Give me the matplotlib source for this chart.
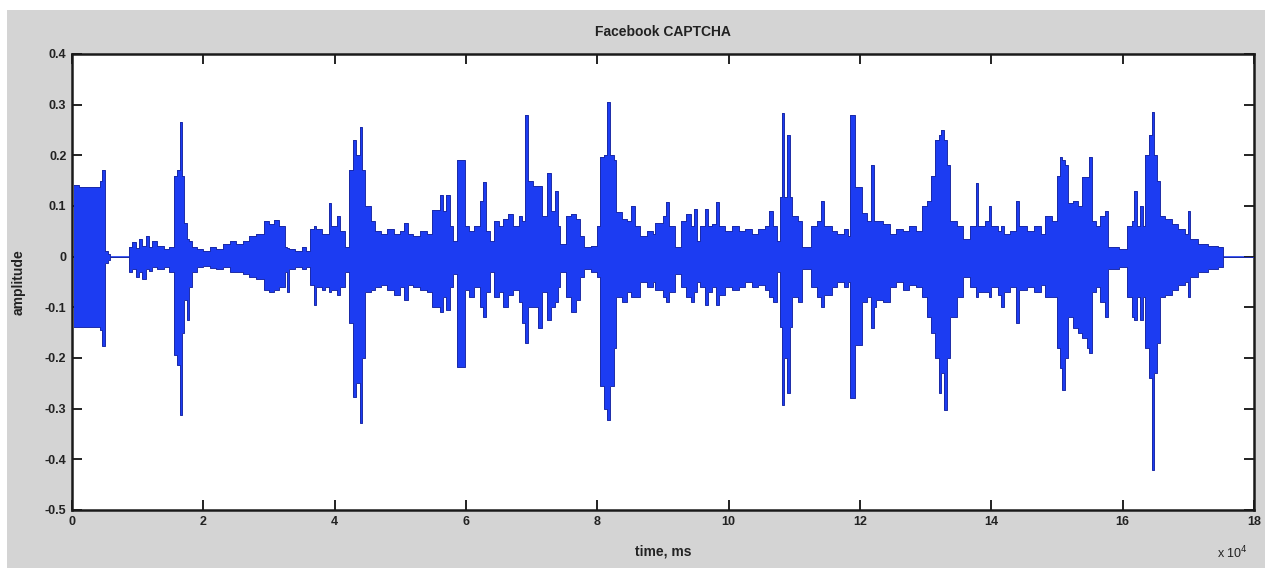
import numpy as np
import matplotlib
matplotlib.use("Agg")
import matplotlib.pyplot as plt
from matplotlib.patches import Rectangle

# envelope of the waveform (time in units of 1e4 ms)
time_1e4 = [
    0.03, 0.10, 0.42, 0.46, 0.50, 0.55, 0.58, 0.87, 0.92, 0.97, 1.02, 1.07, 1.12, 1.17,
    1.22, 1.30, 1.40, 1.48, 1.55, 1.60, 1.64, 1.67, 1.70, 1.75, 1.78, 1.82, 1.90, 2.00,
    2.10, 2.20, 2.30, 2.40, 2.50, 2.60, 2.70, 2.80, 2.92, 3.00, 3.07, 3.15, 3.24, 3.28,
    3.31, 3.40, 3.50, 3.56, 3.62, 3.68, 3.72, 3.80, 3.85, 3.91, 3.95, 4.04, 4.08, 4.16,
    4.22, 4.28, 4.33, 4.38, 4.42, 4.46, 4.55, 4.62, 4.70, 4.80, 4.90, 5.00, 5.05, 5.12,
    5.20, 5.30, 5.40, 5.48, 5.60, 5.65, 5.70, 5.75, 5.80, 5.86, 5.98, 6.05, 6.12, 6.21,
    6.26, 6.31, 6.37, 6.42, 6.50, 6.57, 6.64, 6.72, 6.80, 6.86, 6.90, 6.95, 7.02, 7.10,
    7.15, 7.23, 7.30, 7.35, 7.40, 7.43, 7.53, 7.60, 7.68, 7.74, 7.79, 7.90, 7.99, 8.04,
    8.10, 8.15, 8.20, 8.25, 8.29, 8.37, 8.45, 8.52, 8.58, 8.65, 8.75, 8.85, 8.88, 9.00,
    9.04, 9.09, 9.18, 9.28, 9.35, 9.42, 9.47, 9.52, 9.56, 9.64, 9.68, 9.75, 9.81, 9.85,
    9.95, 10.05, 10.15, 10.25, 10.35, 10.45, 10.55, 10.62, 10.68, 10.74, 10.78, 10.81,
    10.84, 10.89, 10.93, 10.96, 11.05, 11.11, 11.25, 11.35, 11.41, 11.45, 11.57, 11.65,
    11.75, 11.82, 11.85, 11.93, 12.03, 12.10, 12.17, 12.21, 12.25, 12.35, 12.46, 12.55,
    12.65, 12.75, 12.85, 12.94, 13.02, 13.08, 13.14, 13.20, 13.24, 13.28, 13.32, 13.37,
    13.47, 13.57, 13.67, 13.76, 13.80, 13.90, 13.96, 14.00, 14.10, 14.15, 14.20, 14.28,
    14.38, 14.42, 14.55, 14.65, 14.75, 14.82, 14.92, 15.00, 15.04, 15.08, 15.12, 15.17,
    15.25, 15.32, 15.38, 15.46, 15.49, 15.53, 15.60, 15.66, 15.73, 15.78, 15.95, 16.06,
    16.14, 16.17, 16.22, 16.27, 16.31, 16.34, 16.40, 16.44, 16.48, 16.53, 16.57, 16.65,
    16.75, 16.85, 16.95, 16.99, 17.03, 17.15, 17.30, 17.45, 17.53,
]
upper = [
    0.142, 0.138, 0.150, 0.171, 0.012, 0.006, 0.000, 0.020, 0.028, 0.018, 0.035, 0.022, 0.040, 0.020,
    0.030, 0.022, 0.015, 0.020, 0.160, 0.172, 0.265, 0.160, 0.066, 0.035, 0.030, 0.020, 0.015, 0.012,
    0.020, 0.015, 0.025, 0.030, 0.025, 0.030, 0.040, 0.045, 0.070, 0.065, 0.072, 0.060, 0.020, 0.018,
    0.015, 0.012, 0.020, 0.012, 0.055, 0.060, 0.055, 0.045, 0.045, 0.106, 0.060, 0.080, 0.050, 0.020,
    0.171, 0.230, 0.200, 0.255, 0.171, 0.100, 0.070, 0.050, 0.045, 0.055, 0.045, 0.050, 0.066, 0.045,
    0.040, 0.050, 0.045, 0.092, 0.122, 0.090, 0.122, 0.060, 0.030, 0.191, 0.060, 0.050, 0.060, 0.110,
    0.148, 0.050, 0.030, 0.070, 0.060, 0.075, 0.085, 0.060, 0.080, 0.070, 0.280, 0.150, 0.140, 0.140,
    0.080, 0.165, 0.090, 0.130, 0.060, 0.025, 0.080, 0.085, 0.075, 0.040, 0.020, 0.022, 0.060, 0.197,
    0.200, 0.306, 0.200, 0.190, 0.088, 0.075, 0.070, 0.100, 0.060, 0.040, 0.050, 0.045, 0.066, 0.080,
    0.107, 0.060, 0.020, 0.070, 0.085, 0.060, 0.095, 0.030, 0.060, 0.095, 0.060, 0.065, 0.108, 0.060,
    0.050, 0.060, 0.050, 0.055, 0.045, 0.055, 0.060, 0.090, 0.060, 0.030, 0.118, 0.283,
    0.118, 0.240, 0.118, 0.080, 0.070, 0.020, 0.060, 0.070, 0.110, 0.060, 0.050, 0.045,
    0.055, 0.040, 0.280, 0.138, 0.086, 0.070, 0.181, 0.070, 0.070, 0.065, 0.045, 0.055,
    0.050, 0.060, 0.050, 0.100, 0.110, 0.160, 0.230, 0.240, 0.250, 0.230, 0.180, 0.070,
    0.060, 0.035, 0.060, 0.146, 0.060, 0.070, 0.100, 0.060, 0.050, 0.060, 0.045, 0.050,
    0.110, 0.060, 0.050, 0.060, 0.045, 0.080, 0.070, 0.160, 0.197, 0.190, 0.180, 0.105,
    0.110, 0.100, 0.158, 0.158, 0.197, 0.070, 0.060, 0.080, 0.090, 0.020, 0.015, 0.060,
    0.070, 0.130, 0.060, 0.100, 0.060, 0.200, 0.240, 0.286, 0.200, 0.150, 0.080, 0.075,
    0.065, 0.055, 0.045, 0.090, 0.035, 0.025, 0.022, 0.020, 0.000,
]
lower = [
    -0.138, -0.138, -0.145, -0.176, -0.012, -0.006, -0.000, -0.030, -0.025, -0.040, -0.030, -0.045, -0.025, -0.028,
    -0.020, -0.025, -0.020, -0.030, -0.195, -0.214, -0.312, -0.150, -0.085, -0.125, -0.060, -0.030, -0.020, -0.018,
    -0.022, -0.025, -0.020, -0.030, -0.030, -0.035, -0.040, -0.045, -0.066, -0.070, -0.066, -0.060, -0.030, -0.070,
    -0.025, -0.020, -0.025, -0.020, -0.055, -0.095, -0.060, -0.065, -0.060, -0.070, -0.065, -0.075, -0.060, -0.030,
    -0.131, -0.276, -0.250, -0.328, -0.200, -0.070, -0.065, -0.060, -0.055, -0.065, -0.075, -0.060, -0.085, -0.055,
    -0.060, -0.065, -0.070, -0.100, -0.110, -0.080, -0.105, -0.060, -0.035, -0.217, -0.066, -0.080, -0.060, -0.100,
    -0.120, -0.070, -0.030, -0.080, -0.070, -0.100, -0.075, -0.065, -0.090, -0.130, -0.170, -0.100, -0.100, -0.140,
    -0.070, -0.125, -0.100, -0.090, -0.060, -0.030, -0.080, -0.110, -0.085, -0.040, -0.025, -0.030, -0.040, -0.256,
    -0.300, -0.322, -0.256, -0.180, -0.080, -0.090, -0.070, -0.080, -0.080, -0.050, -0.060, -0.050, -0.066, -0.080,
    -0.090, -0.070, -0.035, -0.060, -0.080, -0.090, -0.070, -0.050, -0.060, -0.095, -0.070, -0.060, -0.095, -0.075,
    -0.060, -0.065, -0.060, -0.050, -0.060, -0.055, -0.065, -0.080, -0.090, -0.030, -0.138, -0.293,
    -0.200, -0.270, -0.138, -0.080, -0.090, -0.025, -0.060, -0.080, -0.100, -0.075, -0.060, -0.050,
    -0.060, -0.050, -0.279, -0.175, -0.090, -0.080, -0.140, -0.100, -0.085, -0.090, -0.060, -0.050,
    -0.065, -0.055, -0.060, -0.080, -0.120, -0.150, -0.200, -0.270, -0.230, -0.302, -0.200, -0.120,
    -0.080, -0.040, -0.060, -0.080, -0.070, -0.070, -0.080, -0.060, -0.075, -0.100, -0.070, -0.060,
    -0.130, -0.065, -0.060, -0.070, -0.055, -0.080, -0.080, -0.180, -0.220, -0.263, -0.200, -0.120,
    -0.140, -0.150, -0.160, -0.180, -0.190, -0.070, -0.060, -0.090, -0.120, -0.025, -0.020, -0.080,
    -0.120, -0.125, -0.080, -0.125, -0.080, -0.180, -0.240, -0.421, -0.230, -0.170, -0.080, -0.075,
    -0.065, -0.055, -0.050, -0.080, -0.040, -0.030, -0.025, -0.020, -0.000,
]

x_ticks = [0, 2, 4, 6, 8, 10, 12, 14, 16, 18]
y_ticks = [0.4, 0.3, 0.2, 0.1, 0, -0.1, -0.2, -0.3, -0.4, -0.5]
y_tick_labels = ["0.4", "0.3", "0.2", "0.1", "0", "-0.1", "-0.2", "-0.3", "-0.4", "-0.5"]

t_ms = np.array(time_1e4 + [18.0]) * 1e4
up = np.array(upper + [0.0])
lo = np.array(lower + [0.0])

plt.rcParams["font.family"] = ["Liberation Sans Narrow", "Liberation Sans", "DejaVu Sans"]

fig = plt.figure(figsize=(12.65, 5.68), dpi=100, facecolor="white")
fig.patches.append(Rectangle((7 / 1265, 0), 1, 1 - 10 / 568, transform=fig.transFigure,
                             facecolor="#d4d4d4", edgecolor="none", zorder=-5))

ax = fig.add_axes([72 / 1265, 1 - 510 / 568, (1254 - 72) / 1265, (510 - 54) / 568])
ax.set_facecolor("white")

blue = "#1c3cf2"
ax.axhline(0, color=blue, lw=1.2, zorder=1)
ax.fill_between(t_ms, lo, up, step="post", color=blue, lw=0, zorder=2)
ax.step(t_ms, up, where="post", color="#1a2aa8", lw=0.7, zorder=3)
ax.step(t_ms, lo, where="post", color="#1a2aa8", lw=0.7, zorder=3)

ax.set_xlim(0, 180000)
ax.set_ylim(-0.5, 0.4)
ax.set_xticks([v * 1e4 for v in x_ticks])
ax.set_xticklabels([str(v) for v in x_ticks])
ax.set_yticks(y_ticks)
ax.set_yticklabels(y_tick_labels)
ax.tick_params(direction="in", length=7, width=1.4, top=True, right=True,
               labelsize=9, pad=4, colors="#222222")
for lab in ax.get_xticklabels() + ax.get_yticklabels():
    lab.set_fontweight("bold")
for sp in ax.spines.values():
    sp.set_linewidth(1.8)
    sp.set_color("#1a1a1a")

ax.set_title("Facebook CAPTCHA", fontsize=10, fontweight="bold", pad=13, color="#222222")
ax.set_xlabel("time, ms", fontsize=10, fontweight="bold", labelpad=12, color="#222222")
ax.set_ylabel("amplitude", fontsize=10, fontweight="bold", labelpad=14, color="#222222")
fig.text(1232 / 1265, 1 - 553 / 568, r"x 10$^4$", fontsize=9, ha="center", va="center",
         color="#222222")

fig.savefig("out.png", dpi=100, facecolor=fig.get_facecolor())
